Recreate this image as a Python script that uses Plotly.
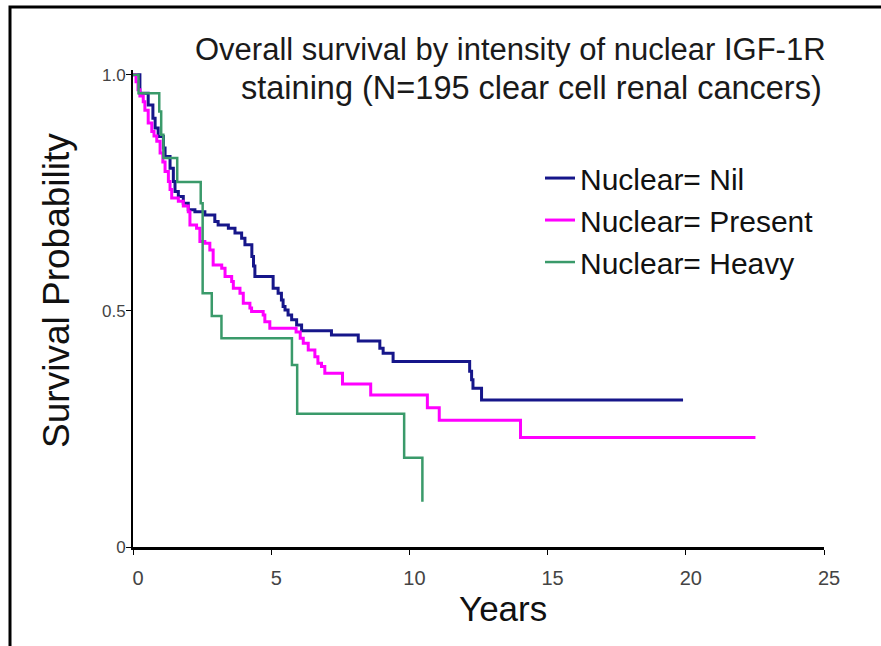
import plotly.graph_objects as go

# Kaplan-Meier estimates: time of each step (years) and survival after it
nil_years = [0, 0.25, 0.55, 0.72, 0.80, 0.91, 1.10, 1.16, 1.34, 1.46,
             1.52, 1.64, 1.82, 2.00, 2.24, 2.60, 2.96, 3.08, 3.45, 3.69,
             3.93, 4.05, 4.30, 4.36, 4.41, 5.07, 5.25, 5.37, 5.43, 5.50,
             5.61, 5.74, 5.92, 6.10, 7.18, 8.15, 8.93, 9.05, 9.41, 12.18,
             12.25, 12.30, 12.61, 19.90]
nil_surv = [1.0, 0.961, 0.936, 0.908, 0.887, 0.869, 0.845, 0.827, 0.802, 0.774,
            0.753, 0.742, 0.728, 0.714, 0.710, 0.703, 0.689, 0.682, 0.675, 0.665,
            0.654, 0.640, 0.615, 0.595, 0.573, 0.548, 0.5375, 0.523, 0.509, 0.502,
            0.4915, 0.481, 0.470, 0.458, 0.449, 0.436, 0.421, 0.410, 0.3926, 0.372,
            0.354, 0.336, 0.3114, 0.3114]

present_years = [0, 0.11, 0.18, 0.25, 0.37, 0.43, 0.55, 0.68, 0.76, 0.86,
                 0.98, 1.08, 1.16, 1.28, 1.34, 1.40, 1.64, 1.82, 2.00, 2.06,
                 2.30, 2.42, 2.60, 2.78, 2.90, 3.21, 3.33, 3.57, 3.63, 3.87,
                 3.99, 4.23, 4.29, 4.71, 4.77, 4.95, 5.90, 6.05, 6.16, 6.34,
                 6.58, 6.69, 6.82, 6.94, 7.58, 8.60, 10.65, 11.08, 14.02, 22.52]
present_surv = [1.0, 0.985, 0.968, 0.955, 0.943, 0.925, 0.898, 0.880, 0.870, 0.859,
                0.834, 0.815, 0.795, 0.774, 0.757, 0.739, 0.732, 0.722, 0.710, 0.682,
                0.675, 0.647, 0.643, 0.629, 0.597, 0.590, 0.573, 0.562, 0.548, 0.5375,
                0.516, 0.506, 0.4985, 0.4915, 0.477, 0.4633, 0.455, 0.442, 0.4315, 0.417,
                0.403, 0.389, 0.382, 0.368, 0.345, 0.322, 0.295, 0.2686, 0.2316, 0.2316]

heavy_years = [0, 0.20, 0.95, 1.02, 1.10, 1.60, 2.45, 2.52, 2.85, 3.20,
               5.75, 5.94, 9.81, 10.47]
heavy_surv = [1.0, 0.961, 0.922, 0.873, 0.8235, 0.773, 0.728, 0.5375, 0.489, 0.442,
              0.3856, 0.2824, 0.189, 0.096]

series_names = ["Nuclear= Nil", "Nuclear= Present", "Nuclear= Heavy"]
series_colors = ["#16168a", "#ff00ff", "#3a9a6a"]

x_ticks = [0, 5, 10, 15, 20, 25]
y_ticks = [0, 0.5, 1.0]
y_tick_text = ["0", "0.5", "1.0"]

title_lines = ["Overall survival by intensity of nuclear IGF-1R",
               "staining (N=195 clear cell renal cancers)"]

FONT = "Liberation Sans, Arial, sans-serif"

fig = go.Figure()
for xs, ys, name, color, width in zip(
        [nil_years, present_years, heavy_years],
        [nil_surv, present_surv, heavy_surv],
        series_names, series_colors, [3, 3, 2.5]):
    fig.add_trace(go.Scatter(
        x=xs, y=ys, name=name, mode="lines",
        line=dict(color=color, width=width, shape="hv"),
    ))

fig.update_layout(
    width=881, height=646,
    margin=dict(l=133, r=57, t=70, b=99),
    paper_bgcolor="white", plot_bgcolor="white",
    font=dict(family=FONT, color="#111111"),
    showlegend=True,
    legend=dict(
        x=0.589, y=0.828, xanchor="left", yanchor="top",
        font=dict(size=30, family=FONT, color="#111111"),
        bgcolor="rgba(0,0,0,0)", tracegroupgap=0,
    ),
    xaxis=dict(
        range=[0, 25], tickvals=x_ticks,
        showline=True, linecolor="black", linewidth=3,
        ticks="outside", ticklen=5, tickwidth=1, tickcolor="black",
        tickfont=dict(size=20, color="#444444"),
        ticklabelshift=5, ticklabelstandoff=6,
        showgrid=False, zeroline=False,
    ),
    yaxis=dict(
        range=[0, 1.01], tickvals=y_ticks, ticktext=y_tick_text,
        showline=True, linecolor="black", linewidth=2,
        ticks="outside", ticklen=5, tickwidth=1, tickcolor="black",
        tickfont=dict(size=17, color="#444444"),
        ticklabelstandoff=-3,
        showgrid=False, zeroline=False,
    ),
    shapes=[
        # frame around the figure (left and top edges visible)
        dict(type="rect", xref="paper", yref="paper",
             x0=-0.178, x1=1.2, y0=-0.3, y1=1.132,
             line=dict(color="black", width=3), fillcolor="rgba(0,0,0,0)",
             layer="above"),
    ],
    annotations=[
        dict(text=title_lines[0], xref="paper", yref="paper",
             x=0.547, y=1.042, xanchor="center", yanchor="middle",
             showarrow=False, font=dict(size=31, color="#1a1a1a")),
        dict(text=title_lines[1], xref="paper", yref="paper",
             x=0.576, y=0.962, xanchor="center", yanchor="middle",
             showarrow=False, font=dict(size=32.5, color="#1a1a1a")),
        dict(text="Years", xref="paper", yref="paper",
             x=0.535, y=-0.128, xanchor="center", yanchor="middle",
             showarrow=False, font=dict(size=35, color="#111111")),
        dict(text="Survival Probability", xref="paper", yref="paper",
             x=-0.11, y=0.539, xanchor="center", yanchor="middle",
             textangle=-90, showarrow=False,
             font=dict(size=37, color="#111111")),
    ],
)

fig.write_html("out.html")
